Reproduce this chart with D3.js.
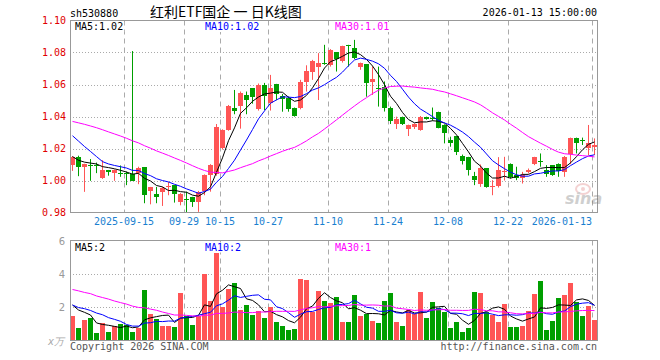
<!DOCTYPE html>
<html><head><meta charset="utf-8">
<script src="https://cdn.jsdelivr.net/npm/d3@7"></script>
<style>html,body{margin:0;padding:0;background:#fff;}</style>
</head><body>
<svg id="chart" width="660" height="360"></svg>
<script>
const dates = ["2025-09-02","2025-09-03","2025-09-04","2025-09-05","2025-09-08","2025-09-09","2025-09-10","2025-09-11","2025-09-12","2025-09-15",
"2025-09-16","2025-09-17","2025-09-18","2025-09-19","2025-09-22","2025-09-23","2025-09-24","2025-09-25","2025-09-26","2025-09-29",
"2025-09-30","2025-10-09","2025-10-10","2025-10-13","2025-10-14","2025-10-15","2025-10-16","2025-10-17","2025-10-20","2025-10-21",
"2025-10-22","2025-10-23","2025-10-24","2025-10-27","2025-10-28","2025-10-29","2025-10-30","2025-10-31","2025-11-03","2025-11-04",
"2025-11-05","2025-11-06","2025-11-07","2025-11-10","2025-11-11","2025-11-12","2025-11-13","2025-11-14","2025-11-17","2025-11-18",
"2025-11-19","2025-11-20","2025-11-21","2025-11-24","2025-11-25","2025-11-26","2025-11-27","2025-11-28","2025-12-01","2025-12-02",
"2025-12-03","2025-12-04","2025-12-05","2025-12-08","2025-12-09","2025-12-10","2025-12-11","2025-12-12","2025-12-15","2025-12-16",
"2025-12-17","2025-12-18","2025-12-19","2025-12-22","2025-12-23","2025-12-24","2025-12-25","2025-12-26","2025-12-29","2025-12-30",
"2025-12-31","2026-01-05","2026-01-06","2026-01-07","2026-01-08","2026-01-09","2026-01-12","2026-01-13"];

const opens = [1.0100,1.0148,1.0084,1.0100,1.0098,1.0015,1.0065,1.0048,1.0048,1.0044,
1.0040,1.0044,1.0083,0.9935,0.9914,0.9927,0.9962,0.9969,0.9866,0.9882,
0.9898,0.9866,0.9933,1.0033,1.0040,1.0201,1.0316,1.0453,1.0466,1.0535,
1.0577,1.0445,1.0600,1.0487,1.0604,1.0529,1.0514,1.0455,1.0451,1.0614,
1.0677,1.0712,1.0735,1.0719,1.0800,1.0744,1.0844,1.0827,1.0712,1.0727,
1.0618,1.0577,1.0587,1.0451,1.0351,1.0399,1.0320,1.0336,1.0316,1.0399,
1.0393,1.0430,1.0347,1.0253,1.0278,1.0153,1.0148,1.0028,0.9979,1.0077,
0.9964,0.9964,1.0052,1.0102,1.0033,1.0017,1.0054,1.0102,1.0125,1.0065,
1.0096,1.0102,1.0054,1.0165,1.0268,1.0251,1.0201,1.0211];

const highs = [1.0152,1.0155,1.0105,1.0134,1.0112,1.0127,1.0066,1.0069,1.0094,1.0056,
1.0809,1.0086,1.0083,0.9960,0.9960,0.9960,0.9991,0.9970,0.9921,0.9930,
0.9898,0.9935,1.0038,1.0102,1.0353,1.0320,1.0472,1.0566,1.0556,1.0556,
1.0577,1.0606,1.0610,1.0660,1.0604,1.0541,1.0525,1.0456,1.0629,1.0720,
1.0754,1.0796,1.0848,1.0821,1.0800,1.0842,1.0848,1.0879,1.0737,1.0727,
1.0712,1.0712,1.0619,1.0462,1.0399,1.0399,1.0349,1.0357,1.0403,1.0399,
1.0456,1.0430,1.0351,1.0274,1.0278,1.0162,1.0148,1.0054,1.0100,1.0077,
1.0002,1.0146,1.0148,1.0107,1.0086,1.0054,1.0075,1.0148,1.0169,1.0096,
1.0096,1.0107,1.0153,1.0268,1.0268,1.0268,1.0347,1.0263];

const lows = [1.0060,1.0027,0.9929,0.9998,1.0046,1.0010,1.0030,0.9998,1.0023,0.9971,
0.9998,0.9977,0.9858,0.9851,0.9858,0.9841,0.9908,0.9862,0.9845,0.9800,
0.9835,0.9804,0.9908,0.9930,1.0030,1.0194,1.0311,1.0414,1.0324,1.0414,
1.0480,1.0437,1.0440,1.0437,1.0502,1.0430,1.0430,1.0399,1.0445,1.0556,
1.0629,1.0503,1.0723,1.0712,1.0681,1.0737,1.0712,1.0759,1.0692,1.0524,
1.0535,1.0462,1.0431,1.0353,1.0322,1.0347,1.0278,1.0322,1.0311,1.0380,
1.0374,1.0326,1.0232,1.0211,1.0159,1.0100,1.0031,0.9971,0.9960,0.9955,
0.9908,0.9956,1.0000,1.0013,1.0002,0.9981,1.0044,1.0096,1.0086,1.0023,
1.0029,1.0023,1.0023,1.0102,1.0169,1.0222,1.0159,1.0159];

const closes = [1.0148,1.0084,1.0102,1.0090,1.0092,1.0065,1.0054,1.0065,1.0042,1.0038,
1.0000,1.0079,0.9910,0.9958,0.9897,0.9956,0.9965,0.9918,0.9916,0.9878,
0.9866,0.9931,1.0033,1.0096,1.0332,1.0316,1.0466,1.0435,1.0550,1.0504,
1.0520,1.0600,1.0530,1.0577,1.0540,1.0510,1.0445,1.0403,1.0618,1.0685,
1.0744,1.0737,1.0731,1.0817,1.0758,1.0838,1.0840,1.0765,1.0733,1.0608,
1.0633,1.0570,1.0451,1.0372,1.0382,1.0351,1.0347,1.0351,1.0399,1.0382,
1.0389,1.0330,1.0295,1.0232,1.0180,1.0122,1.0065,1.0005,1.0080,0.9960,
0.9968,1.0065,1.0061,1.0019,1.0013,1.0033,1.0065,1.0148,1.0121,1.0040,
1.0033,1.0061,1.0148,1.0268,1.0236,1.0247,1.0232,1.0222];

// volumes in 万 lots
const volumes = [1.49,0.76,1.23,1.33,0.46,1.03,0.52,0.89,0.97,0.93,
0.52,0.76,3.02,1.57,1.29,0.87,0.87,0.82,2.84,1.45,
0.93,1.50,3.98,2.37,5.23,2.00,3.10,3.44,1.83,2.13,
1.53,1.77,1.35,2.00,1.11,0.87,0.64,0.70,3.68,3.62,
1.69,2.96,2.37,2.25,2.62,1.13,1.13,2.72,1.49,1.59,
1.17,1.05,2.37,2.84,1.13,0.87,1.83,1.57,2.90,1.35,
2.31,1.97,1.73,0.76,1.11,0.52,0.74,2.90,2.84,1.69,
1.53,1.11,2.19,0.82,0.82,0.87,1.77,2.78,3.56,0.64,
1.17,2.54,2.72,3.44,2.31,1.47,2.07,1.23];

// estimated sessions before the window (needed for the moving averages at the left edge)
const prevCloses = [1.035,1.038,1.040,1.042,1.044,1.046,1.045,1.043,1.046,1.048,
1.047,1.044,1.042,1.040,1.038,1.040,1.039,1.037,1.036,1.038,
1.042,1.044,1.040,1.041,1.038,1.020,1.016,1.012,1.012];
const prevVolumes = [3.2,4.1,3.5,4.6,3.9,3.3,4.4,3.8,3.6,4.2,
3.1,3.7,3.9,3.4,4.0,3.5,3.6,2.8,2.1,1.82,
2.3,1.9,2.4,2.0,2.05,2.26,1.93,2.13,2.84];

const tickDates = ["2025-09-15","2025-09-29","2025-10-15","2025-10-27","2025-11-10","2025-11-24","2025-12-08","2025-12-22","2026-01-13"];
const tickLabels = ["2025-09-15","09-29","10-15","10-27","11-10","11-24","12-08","12-22","2026-01-13"];
const priceTicks = [0.98,1.00,1.02,1.04,1.06,1.08,1.10];
const volTicks = [2,4,6];
const maPeriods = [5,10,30];
const maColors = ["#000000","#0000ff","#ff00ff"];

const RED = "#ff5555", GREEN = "#009f00";
const MONO = "'DejaVu Sans Mono', monospace";

function movingAvg(prev, cur, n) {
  const all = prev.concat(cur);
  return cur.map((_, i) => {
    const end = prev.length + i;
    return d3.mean(all.slice(end - n + 1, end + 1));
  });
}

const svg = d3.select("#chart");
const L = 70, R = 598;
const x = d3.scaleBand().domain(dates).range([L, R]).padding(0);
const yP = d3.scaleLinear().domain([0.98, 1.10]).range([212.5, 20.5]);
const yV = d3.scaleLinear().domain([0, 6]).range([340.5, 240.5]);
const cx = d => x(d) + 2.5;

const defs = svg.append("defs");
defs.append("clipPath").attr("id","cp").append("rect").attr("x",L).attr("y",20).attr("width",R-L).attr("height",193);
defs.append("clipPath").attr("id","cv").append("rect").attr("x",L).attr("y",240).attr("width",R-L).attr("height",101);

// header
svg.append("text").attr("x",70).attr("y",16.5).attr("font-family",MONO).attr("font-size",10).attr("fill","#000").text("sh530880");
svg.append("text").attr("x",150).attr("y",17).attr("font-family","'Noto Sans CJK SC', sans-serif").attr("font-size",14).attr("fill","#000").text("红利ETF国企 一 日K线图");
svg.append("text").attr("x",597).attr("y",16).attr("text-anchor","end").attr("font-family",MONO).attr("font-size",10).attr("fill","#000").text("2026-01-13 15:00:00");

// gridlines
const grid = svg.append("g");
priceTicks.filter(t => t > 0.985 && t < 1.095).forEach(t => {
  grid.append("line").attr("x1",L).attr("x2",R).attr("y1",Math.round(yP(t))+0.5).attr("y2",Math.round(yP(t))+0.5)
    .attr("stroke","#aaa").attr("stroke-dasharray","1,2");
});
volTicks.filter(t => t < 6).forEach(t => {
  grid.append("line").attr("x1",L).attr("x2",R).attr("y1",Math.round(yV(t))+0.5).attr("y2",Math.round(yV(t))+0.5)
    .attr("stroke","#aaa").attr("stroke-dasharray","1,2");
});
tickDates.forEach(d => {
  [[20.5,212.5],[240.5,340.5]].forEach(([a,b]) => {
    grid.append("line").attr("x1",x(d)+0.5).attr("x2",x(d)+0.5).attr("y1",a).attr("y2",b)
      .attr("stroke","#aaa").attr("stroke-dasharray","5,4");
  });
});

// candles
const cg = svg.append("g").attr("clip-path","url(#cp)");
dates.forEach((d,i) => {
  const up = closes[i] >= opens[i];
  const col = up ? RED : GREEN;
  cg.append("line").attr("x1",cx(d)).attr("x2",cx(d)).attr("y1",yP(highs[i])).attr("y2",yP(lows[i]))
    .attr("stroke",col).attr("stroke-width",1);
  const top = Math.round(yP(Math.max(opens[i],closes[i])));
  const bot = Math.round(yP(Math.min(opens[i],closes[i])));
  cg.append("rect").attr("x",x(d)).attr("y",top).attr("width",5).attr("height",Math.max(1,bot-top))
    .attr("fill",col).attr("shape-rendering","crispEdges");
});

// volume bars
const vg = svg.append("g").attr("clip-path","url(#cv)");
dates.forEach((d,i) => {
  const up = closes[i] >= opens[i];
  const top = Math.round(yV(volumes[i]));
  vg.append("rect").attr("x",x(d)).attr("y",top).attr("width",5).attr("height",Math.round(yV(0))-top)
    .attr("fill",up ? RED : GREEN).attr("shape-rendering","crispEdges");
});

// moving averages
const priceMA = maPeriods.map(n => movingAvg(prevCloses, closes, n));
const volMA = maPeriods.map(n => movingAvg(prevVolumes, volumes, n));
maPeriods.forEach((n,k) => {
  const lp = d3.line().x((v,i) => cx(dates[i])).y(v => yP(v));
  cg.append("path").attr("d",lp(priceMA[k])).attr("fill","none").attr("stroke",maColors[k]).attr("stroke-width",1);
  const lv = d3.line().x((v,i) => cx(dates[i])).y(v => yV(v));
  vg.append("path").attr("d",lv(volMA[k])).attr("fill","none").attr("stroke",maColors[k]).attr("stroke-width",1);
});

// panel frames
svg.append("rect").attr("x",L+0.5).attr("y",20.5).attr("width",R-L-1).attr("height",192).attr("fill","none").attr("stroke","#999");
svg.append("rect").attr("x",L+0.5).attr("y",240.5).attr("width",R-L-1).attr("height",100).attr("fill","none").attr("stroke","#999");

// MA legends
const labelX = [75,205,335];
function legend(y, texts) {
  texts.forEach((t,k) => {
    const w = t.length * 6.02;
    svg.append("rect").attr("x",labelX[k]-2).attr("y",y-8).attr("width",w+3).attr("height",10).attr("fill","#fff");
    svg.append("text").attr("x",labelX[k]).attr("y",y).attr("font-family",MONO).attr("font-size",10).attr("fill",maColors[k]).text(t);
  });
}
legend(30, maPeriods.map((n,k) => "MA" + n + ":" + priceMA[k][priceMA[k].length-1].toFixed(2)));
legend(250.5, maPeriods.map((n,k) => "MA" + n + ":" + Math.floor(volMA[k][volMA[k].length-1])));

// price axis labels
priceTicks.forEach(t => {
  svg.append("text").attr("x",66).attr("y",yP(t)+3.5).attr("text-anchor","end").attr("font-family",MONO)
    .attr("font-size",10).attr("fill","#e00000").text(t.toFixed(2));
});
// date labels
tickDates.forEach((d,k) => {
  const last = k === tickDates.length - 1;
  svg.append("text").attr("x", last ? x(d) : x(d)).attr("y",225).attr("text-anchor", last ? "end" : "middle")
    .attr("font-family",MONO).attr("font-size",10).attr("fill","#1a7fd0").text(tickLabels[k]);
});
// volume axis labels
volTicks.forEach(t => {
  svg.append("text").attr("x",65).attr("y",yV(t)+4).attr("text-anchor","end").attr("font-family","'DejaVu Sans', sans-serif")
    .attr("font-size",10).attr("fill","#999").text(t);
});
svg.append("text").attr("x",64).attr("y",344.5).attr("text-anchor","end").attr("font-family","'DejaVu Sans', sans-serif")
  .attr("font-size",10).attr("font-style","italic").attr("fill","#aaa").text("x万");

// footer
svg.append("text").attr("x",70).attr("y",349.5).attr("font-family",MONO).attr("font-size",10).attr("fill","#555").text("Copyright 2026 SINA.COM");
svg.append("text").attr("x",597).attr("y",349.5).attr("text-anchor","end").attr("font-family",MONO).attr("font-size",10).attr("fill","#555").text("http://finance.sina.com.cn");

// watermark
const wm = svg.append("g").attr("opacity",0.35);
wm.append("ellipse").attr("cx",583).attr("cy",189).attr("rx",7).attr("ry",5).attr("fill","none").attr("stroke","#e08080").attr("stroke-width",2);
wm.append("circle").attr("cx",583).attr("cy",189).attr("r",2).attr("fill","#e08080");
wm.append("text").attr("x",565).attr("y",204).attr("font-family","'DejaVu Sans', sans-serif").attr("font-size",16)
  .attr("font-weight","bold").attr("font-style","italic").attr("fill","#777").text("sina");
</script>
</body></html>
